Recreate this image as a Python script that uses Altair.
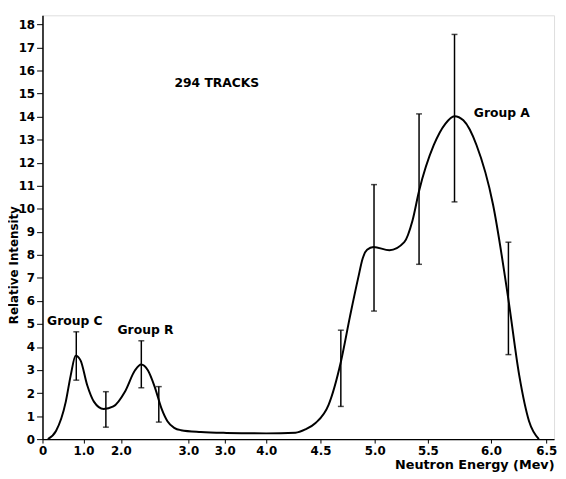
import altair as alt
import pandas as pd

# ---- data ----
curve_energy = [0.13, 0.33, 0.57, 0.69, 0.81, 0.93, 1.10, 1.28, 1.54, 1.80, 2.06, 2.21, 2.30,
                2.40, 2.50, 2.60, 2.69, 2.79, 2.89, 3.17, 3.52, 4.00, 4.27, 4.36, 4.455, 4.575,
                4.688, 4.773, 4.848, 4.89, 4.93, 4.99, 5.139, 5.278, 5.355, 5.417, 5.547, 5.638,
                5.711, 5.781, 5.885, 6.018, 6.158, 6.256, 6.345, 6.434]
curve_intensity = [0.0, 0.35, 1.63, 2.77, 3.62, 3.42, 2.35, 1.63, 1.31, 1.42, 2.06, 2.99, 3.24,
                   2.99, 2.28, 1.35, 0.78, 0.49, 0.39, 0.31, 0.27, 0.25, 0.28, 0.42, 0.70, 1.49,
                   3.35, 5.34, 7.00, 7.85, 8.22, 8.34, 8.20, 8.55, 9.48, 10.77, 12.77, 13.69,
                   14.02, 13.84, 12.77, 10.20, 6.06, 2.77, 0.78, 0.0]

err_energy = [0.826, 1.60, 2.303, 2.562, 4.688, 4.994, 5.417, 5.711, 6.158]
err_low = [2.56, 0.52, 2.23, 0.74, 1.42, 5.56, 7.59, 10.30, 3.67]
err_high = [4.66, 2.06, 4.27, 2.28, 4.73, 11.05, 14.12, 17.57, 8.55]

note_text = ["294 TRACKS", "Group C", "Group R", "Group A"]
note_energy = [3.39, 0.79, 2.365, 6.098]
note_intensity = [15.44, 5.13, 4.73, 14.16]

# printed (non-uniform) energy axis of the original figure
x_tick_values = [0, 1, 2, 3, 3.5, 4, 4.5, 5, 5.5, 6, 6.5]
x_tick_labels = ["0", "1.0", "2.0", "3.0", "3.0", "4.0", "4.5", "5.0", "5.5", "6.0", "6.5"]
x_scale_domain = x_tick_values + [6.6]
x_scale_range = [0, 41.5, 79.5, 148, 185, 227, 282, 337, 391, 455, 511, 519]

y_tick_values = list(range(0, 19))

curve = pd.DataFrame({"E": curve_energy, "I": curve_intensity})
errs = pd.DataFrame({"E": err_energy, "lo": err_low, "hi": err_high})
notes = pd.DataFrame({"E": note_energy, "I": note_intensity, "t": note_text})

FONT = "DejaVu Sans"

vals_js = "[" + ",".join(str(v) for v in x_tick_values) + "]"
labs_js = "[" + ",".join("'" + s + "'" for s in x_tick_labels) + "]"
label_expr = f"{labs_js}[indexof({vals_js}, datum.value)]"

xscale = alt.Scale(domain=x_scale_domain, range=x_scale_range, nice=False, zero=False)
yscale = alt.Scale(domain=[0, 18.4], nice=False)

xaxis = alt.Axis(
    values=x_tick_values, labelExpr=label_expr, title="Neutron Energy (Mev)",
    grid=False, tickSize=4, labelPadding=3, labelFont=FONT, labelFontSize=12,
    labelFontWeight="bold", labelColor="black", domainColor="black", domainWidth=1.5,
    tickColor="black", titleFont=FONT, titleFontSize=13, titleFontWeight="bold",
    titleColor="black", titleAnchor="end", titleAlign="right", titleX=519, titleY=26,
    titleBaseline="middle", labelFlush=False, labelOverlap=False,
)
yaxis = alt.Axis(
    values=y_tick_values, title="Relative Intensity", grid=False, tickSize=6,
    labelPadding=2, labelFont=FONT, labelFontSize=12, labelFontWeight="bold",
    labelColor="black", domainColor="black", domainWidth=1.5, tickColor="black",
    titleFont=FONT, titleFontSize=12, titleFontWeight="bold", titleColor="black",
    titleX=-29, titleY=253, titleAlign="center", titleBaseline="middle", titleAngle=-90,
    labelOverlap=False, labelFlush=False,
)

X = alt.X("E:Q", scale=xscale, axis=xaxis)

line = alt.Chart(curve).mark_line(color="black", strokeWidth=2, interpolate="monotone").encode(
    x=X, y=alt.Y("I:Q", scale=yscale, axis=yaxis),
)

rules = alt.Chart(errs).mark_rule(color="black", strokeWidth=1.5).encode(
    x=X, y=alt.Y("lo:Q", scale=yscale, axis=yaxis), y2="hi:Q"
)
cap_lo = alt.Chart(errs).mark_tick(color="black", orient="horizontal", size=6, thickness=1.5).encode(
    x=X, y=alt.Y("lo:Q", scale=yscale, axis=yaxis)
)
cap_hi = alt.Chart(errs).mark_tick(color="black", orient="horizontal", size=6, thickness=1.5).encode(
    x=X, y=alt.Y("hi:Q", scale=yscale, axis=yaxis)
)

text = alt.Chart(notes).mark_text(font=FONT, fontSize=12.5, fontWeight="bold", color="black",
                                   align="center", baseline="middle").encode(
    x=X, y=alt.Y("I:Q", scale=yscale, axis=yaxis), text="t:N"
)

chart = alt.layer(line, rules, cap_lo, cap_hi, text).properties(
    width=519, height=430,
    autosize=alt.AutoSizeParams(type="none"),
    padding={"left": 35, "top": 4, "right": 4, "bottom": 35},
).configure_view(stroke=None).configure(background="white")

chart.save("out.html", embed_options={"renderer": "svg", "actions": False})
